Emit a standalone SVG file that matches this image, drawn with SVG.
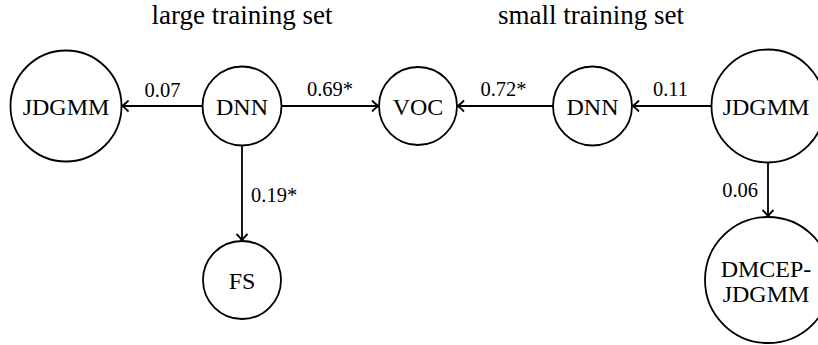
<svg xmlns="http://www.w3.org/2000/svg" width="818" height="345" viewBox="0 0 818 345" font-family="'Liberation Serif', 'Times New Roman', serif">
<defs>
<marker id="arr" markerUnits="userSpaceOnUse" markerWidth="14" markerHeight="14" viewBox="-8 -7 10 14" refX="0" refY="0" orient="auto">
<path d="M-6.5,-5.5 Q-2,-1 0,0 Q-2,1 -6.5,5.5" fill="none" stroke="#000" stroke-width="1.8"/>
</marker>
<style>
.n{fill:#fff;stroke:#000;stroke-width:1.8}
text{font-family:"Liberation Serif","Times New Roman",serif;fill:#000}
.t{font-size:24px;text-anchor:middle}
.l{font-size:20.5px}
.h{font-size:27px;text-anchor:middle}
.e{stroke:#000;stroke-width:1.8;fill:none;marker-end:url(#arr)}
</style>
</defs>
<rect width="818" height="345" fill="#fff"/>
<g id="titles">
<text class="h" x="242" y="24">large training set</text>
<text class="h" x="591" y="24">small training set</text>
</g>
<g id="connectors">
<line class="e" x1="202.5" y1="106" x2="122" y2="106"/>
<line class="e" x1="281.5" y1="106" x2="378.5" y2="106"/>
<line class="e" x1="553" y1="106" x2="457.5" y2="106"/>
<line class="e" x1="711.5" y1="106" x2="632.5" y2="106"/>
<line class="e" x1="242" y1="145.5" x2="242" y2="240.5"/>
<line class="e" x1="768" y1="162.5" x2="768" y2="216.5"/>
<text class="l" x="162.5" y="97" text-anchor="middle">0.07</text>
<text class="l" x="330" y="96" text-anchor="middle">0.69*</text>
<text class="l" x="503.5" y="96" text-anchor="middle">0.72*</text>
<text class="l" x="670.5" y="96" text-anchor="middle">0.11</text>
<text class="l" x="251" y="201.5">0.19*</text>
<text class="l" x="758" y="197" text-anchor="end">0.06</text>
</g>
<g id="jdgmm-left">
<circle class="n" cx="66" cy="106" r="55.5"/>
<text class="t" x="66" y="114.5">JDGMM</text>
</g>
<g id="dnn-left">
<circle class="n" cx="242" cy="106" r="39.5"/>
<text class="t" x="242" y="114.5">DNN</text>
</g>
<g id="voc">
<circle class="n" cx="418" cy="106" r="39"/>
<text class="t" x="418" y="114.5">VOC</text>
</g>
<g id="dnn-right">
<circle class="n" cx="592.5" cy="106" r="39.5"/>
<text class="t" x="592.5" y="114.5">DNN</text>
</g>
<g id="jdgmm-right">
<circle class="n" cx="768" cy="106" r="56.5"/>
<text class="t" x="766" y="114.5">JDGMM</text>
</g>
<g id="fs">
<circle class="n" cx="242" cy="280" r="39"/>
<text class="t" x="242" y="288.5">FS</text>
</g>
<g id="dmcep-jdgmm">
<circle class="n" cx="768" cy="280" r="63"/>
<text class="t" x="766" y="277">DMCEP-</text>
<text class="t" x="766" y="302">JDGMM</text>
</g>
</svg>
